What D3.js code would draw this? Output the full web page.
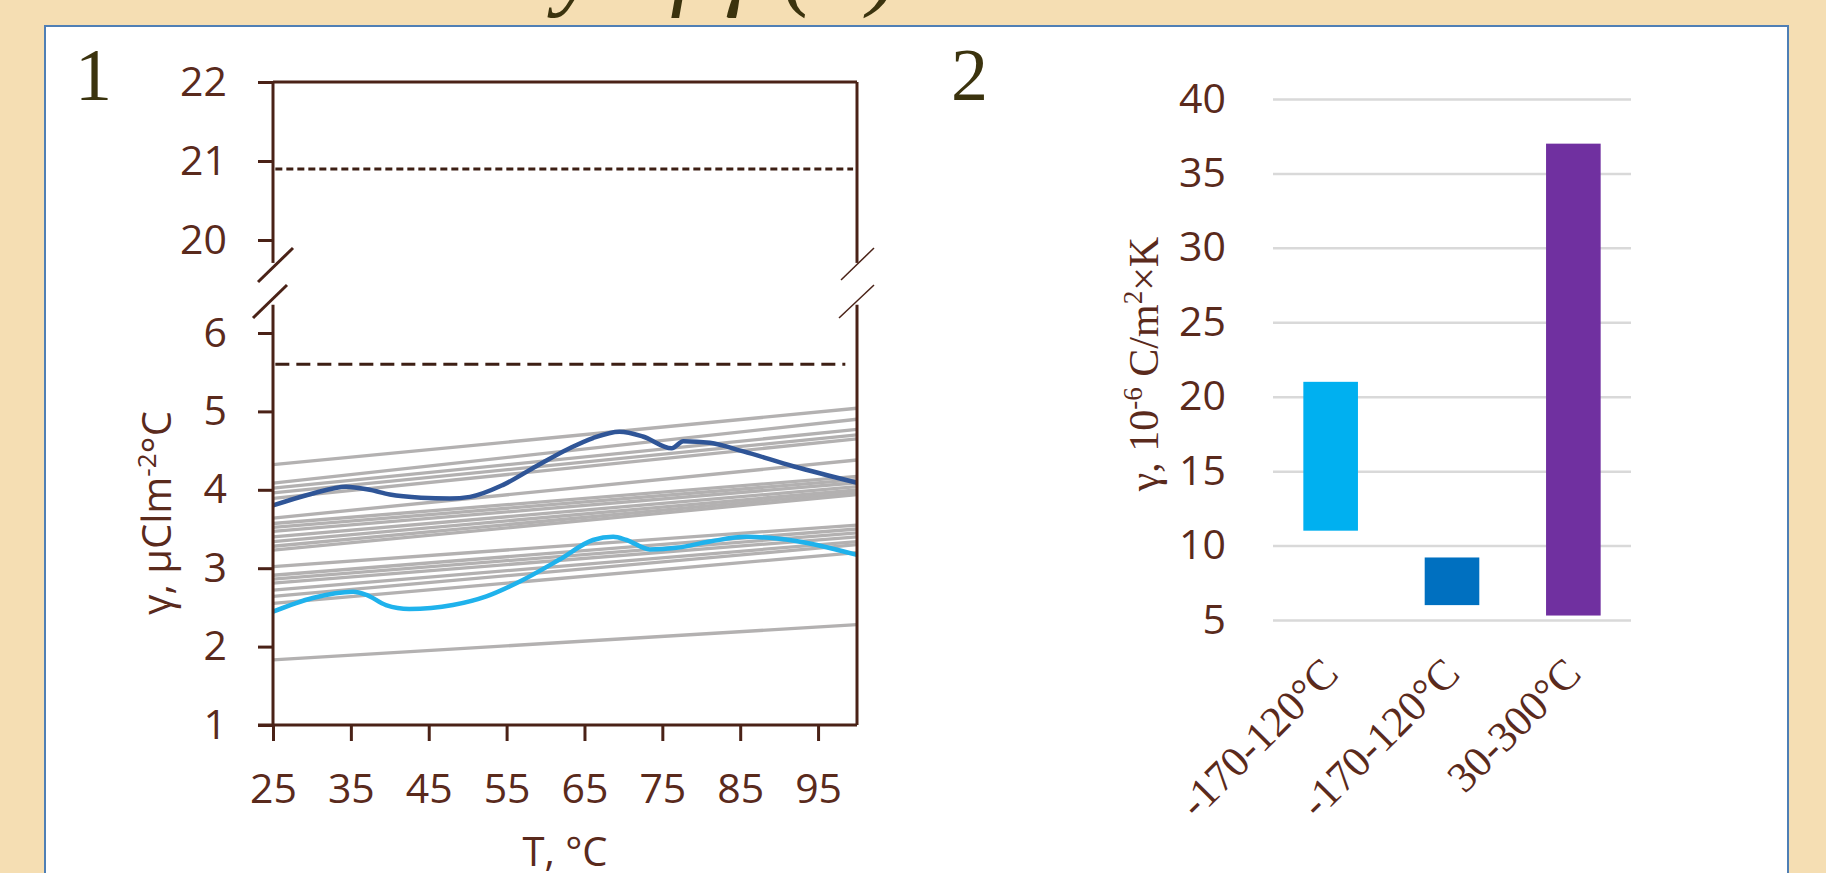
<!DOCTYPE html>
<html>
<head>
<meta charset="utf-8">
<script src="https://cdn.jsdelivr.net/npm/d3@7"></script>
<style>
  body { margin: 0; background: #f5deb3; overflow: hidden; }
  svg { display: block; }
</style>
</head>
<body>
<svg id="fig" width="1826" height="873"></svg>
<script>
// panel 1: gamma vs temperature, panel 2: gamma ranges as floating bars
//``````````````````````````````````````//

// gray lines, value at T=25 and at T=100
let grayT = [25, 100]
let grayStart = [4.32, 4.085, 4.02, 3.96, 3.89, 3.64, 3.57, 3.52, 3.47, 3.40, 3.34, 3.28, 3.23, 3.02, 2.91, 2.86, 2.81, 2.72, 2.64, 2.55, 1.83]
let grayEnd   = [5.04, 4.90, 4.77, 4.70, 4.65, 4.38, 4.17, 4.13, 4.09, 4.04, 4.00, 3.97, 3.94, 3.55, 3.50, 3.45, 3.40, 3.34, 3.30, 3.20, 2.28]

// measured curves
let darkT     = [25, 30, 34.4, 37.4, 40, 44, 47.7, 50.3, 54.5, 58.8, 63.1, 66.1, 69.5, 72.5, 76.2, 77.7, 81.1, 85.4, 91.8, 100]
let darkGamma = [3.80, 3.95, 4.04, 4.00, 3.94, 3.90, 3.89, 3.91, 4.06, 4.30, 4.53, 4.66, 4.74, 4.68, 4.53, 4.62, 4.60, 4.49, 4.30, 4.09]
let lightT     = [25, 30.1, 35.3, 37, 39.5, 42.5, 48.1, 52.4, 56.7, 61.8, 66.1, 68.7, 70.4, 73.4, 76.8, 81.1, 85.8, 89.7, 100]
let lightGamma = [2.445, 2.62, 2.70, 2.66, 2.53, 2.48, 2.53, 2.64, 2.83, 3.11, 3.36, 3.40, 3.36, 3.24, 3.26, 3.34, 3.40, 3.38, 3.17]

// dashed reference levels
let upperDash = 20.9
let lowerDash = 5.6

// ticks panel 1
let xTicks = [25, 35, 45, 55, 65, 75, 85, 95]
let upperTicks = [20, 21, 22]
let lowerTicks = [1, 2, 3, 4, 5, 6]

// panel 2 bars
let barCats = ['-170-120°C', '-170-120°C', '30-300°C']
let barLow  = [11, 6, 5.3]
let barHigh = [21, 9.2, 37]
let barColors = ['#00b0f0', '#0070c0', '#7030a0']
let barTicks = [5, 10, 15, 20, 25, 30, 35, 40]

let axisColor = '#4a2217'
let labelColor = '#5a2a1c'
let sans = "'Open Sans', 'Noto Sans', sans-serif"
let serif = "'Liberation Serif', 'DejaVu Serif', serif"

let svg = d3.select('#fig')

// white panel with thin blue border
svg.append('rect')
    .attr('x', 45).attr('y', 26)
    .attr('width', 1743).attr('height', 900)
    .attr('fill', '#ffffff')
    .attr('stroke', '#4f7fb5')
    .attr('stroke-width', 2)

// slide title, only its descenders show above the panel
svg.append('text')
    .attr('x', 900).attr('y', -2)
    .attr('text-anchor', 'end')
    .attr('font-family', serif)
    .attr('font-style', 'italic')
    .attr('font-size', 96)
    .attr('fill', '#3b330e')
    .text('Thermal stability of γ (T)')

// panel numbers
svg.append('text').attr('x', 75).attr('y', 100)
    .attr('font-family', serif).attr('font-size', 74).attr('fill', '#3b330e').text('1')
svg.append('text').attr('x', 951).attr('y', 100)
    .attr('font-family', serif).attr('font-size', 74).attr('fill', '#3b330e').text('2')

//------------- panel 1 -------------//
let x = d3.scaleLinear().domain([25, 100]).range([273, 857])
let yTop = d3.scaleLinear().domain([20, 22]).range([240, 82])
let yLow = d3.scaleLinear().domain([1, 6]).range([725, 333])

let p1 = svg.append('g')

// gray lines
let line = d3.line().x(d => x(d[0])).y(d => yLow(d[1]))
for (let i = 0; i < grayStart.length; i++) {
    p1.append('path')
        .attr('d', line([[grayT[0], grayStart[i]], [grayT[1], grayEnd[i]]]))
        .attr('fill', 'none')
        .attr('stroke', '#b3b1b1')
        .attr('stroke-width', 3.3)
}

let smooth = d3.line().x(d => x(d[0])).y(d => yLow(d[1])).curve(d3.curveMonotoneX)
p1.append('path')
    .attr('d', smooth(darkT.map((t, i) => [t, darkGamma[i]])))
    .attr('fill', 'none').attr('stroke', '#2f5597').attr('stroke-width', 4.5)
p1.append('path')
    .attr('d', smooth(lightT.map((t, i) => [t, lightGamma[i]])))
    .attr('fill', 'none').attr('stroke', '#1fb2ec').attr('stroke-width', 4.5)

// dashed levels
p1.append('line')
    .attr('x1', x(25.3)).attr('x2', x(99.5))
    .attr('y1', yTop(upperDash)).attr('y2', yTop(upperDash))
    .attr('stroke', '#3d1f14').attr('stroke-width', 3)
    .attr('stroke-dasharray', '7,4')
p1.append('line')
    .attr('x1', x(25.3)).attr('x2', x(98.5))
    .attr('y1', yLow(lowerDash)).attr('y2', yLow(lowerDash))
    .attr('stroke', '#3d1f14').attr('stroke-width', 3)
    .attr('stroke-dasharray', '14,7')

// frame lines (axis broken between the two ranges)
let frame = [
    [x(25), yTop(22), x(100), yTop(22)],
    [x(25), yTop(22), x(25), yTop(19.71)],
    [x(100), yTop(22), x(100), yTop(19.71)],
    [x(25), yLow(6.36), x(25), yLow(1)],
    [x(100), yLow(6.36), x(100), yLow(1)]
]
frame.forEach(f => {
    p1.append('line')
        .attr('x1', f[0]).attr('y1', f[1]).attr('x2', f[2]).attr('y2', f[3])
        .attr('stroke', axisColor).attr('stroke-width', 3)
})

// break marks
let breaks = [
    [258, 282, 293, 248, 3], [253, 318, 287, 285, 3],
    [841, 280, 874, 248, 1.5], [839, 318, 874, 285, 1.5]
]
breaks.forEach(b => {
    p1.append('line')
        .attr('x1', b[0]).attr('y1', b[1]).attr('x2', b[2]).attr('y2', b[3])
        .attr('stroke', axisColor).attr('stroke-width', b[4])
})

let styleAxis = (g) => {
    g.select('.domain').remove()
    g.selectAll('line').attr('stroke', axisColor).attr('stroke-width', 3)
    g.selectAll('text').attr('fill', labelColor).attr('font-family', sans).attr('font-size', 41)
}

p1.append('g').attr('transform', 'translate(273,0)')
    .call(d3.axisLeft(yTop).tickValues(upperTicks).tickSize(15).tickPadding(31).tickFormat(d3.format('d')))
    .call(styleAxis)
p1.append('g').attr('transform', 'translate(273,0)')
    .call(d3.axisLeft(yLow).tickValues(lowerTicks).tickSize(15).tickPadding(31).tickFormat(d3.format('d')))
    .call(styleAxis)

// x axis
p1.append('line')
    .attr('x1', x(25) - 15).attr('x2', x(100))
    .attr('y1', yLow(1)).attr('y2', yLow(1))
    .attr('stroke', axisColor).attr('stroke-width', 3)
p1.append('g').attr('transform', 'translate(0,' + yLow(1) + ')')
    .call(d3.axisBottom(x).tickValues(xTicks).tickSize(16).tickPadding(33).tickFormat(d3.format('d')))
    .call(styleAxis)

// axis titles
p1.append('text')
    .attr('x', x(62.5)).attr('y', 866)
    .attr('text-anchor', 'middle')
    .attr('font-family', sans).attr('font-size', 40).attr('fill', labelColor)
    .text('T, °C')

let yTitle1 = p1.append('text')
    .attr('transform', 'translate(171,513) rotate(-90)')
    .attr('text-anchor', 'middle')
    .attr('font-family', sans).attr('font-size', 40).attr('fill', labelColor)
yTitle1.append('tspan').text('γ, µClm')
yTitle1.append('tspan').attr('dy', -15).attr('font-size', 26).text('-2')
yTitle1.append('tspan').attr('dy', 15).text('°C')

//------------- panel 2 -------------//
let xb = d3.scaleBand().domain(d3.range(barCats.length)).range([1273, 1631]).paddingInner(0.55).paddingOuter(0.25)
let yb = d3.scaleLinear().domain([5, 40]).range([620, 99])

let p2 = svg.append('g')

p2.append('g').attr('transform', 'translate(1273,0)')
    .call(d3.axisLeft(yb).tickValues(barTicks).tickSize(-(1631 - 1273)).tickPadding(47))
    .call(g => {
        g.select('.domain').remove()
        g.selectAll('line').attr('stroke', '#d9d9d9').attr('stroke-width', 2.5)
        g.selectAll('text').attr('fill', labelColor).attr('font-family', sans).attr('font-size', 41)
    })

p2.selectAll('rect.bar')
    .data(barCats)
    .enter()
    .append('rect')
    .attr('class', 'bar')
    .attr('x', (d, i) => xb(i))
    .attr('width', xb.bandwidth())
    .attr('y', (d, i) => yb(barHigh[i]))
    .attr('height', (d, i) => yb(barLow[i]) - yb(barHigh[i]))
    .attr('fill', (d, i) => barColors[i])

p2.selectAll('text.cat')
    .data(barCats)
    .enter()
    .append('text')
    .attr('class', 'cat')
    .attr('transform', (d, i) => 'translate(' + (xb(i) + xb.bandwidth() / 2 + 10) + ',676) rotate(-45)')
    .attr('text-anchor', 'end')
    .attr('font-family', serif).attr('font-size', 43).attr('fill', labelColor)
    .text(d => d)

let yTitle2 = p2.append('text')
    .attr('transform', 'translate(1158,364) rotate(-90)')
    .attr('text-anchor', 'middle')
    .attr('font-family', serif).attr('font-size', 42).attr('fill', labelColor)
yTitle2.append('tspan').text('γ, 10')
yTitle2.append('tspan').attr('dy', -16).attr('font-size', 27).text('-6')
yTitle2.append('tspan').attr('dy', 16).text(' C/m')
yTitle2.append('tspan').attr('dy', -16).attr('font-size', 27).text('2')
yTitle2.append('tspan').attr('dy', 16).text('×K')
</script>
</body>
</html>
